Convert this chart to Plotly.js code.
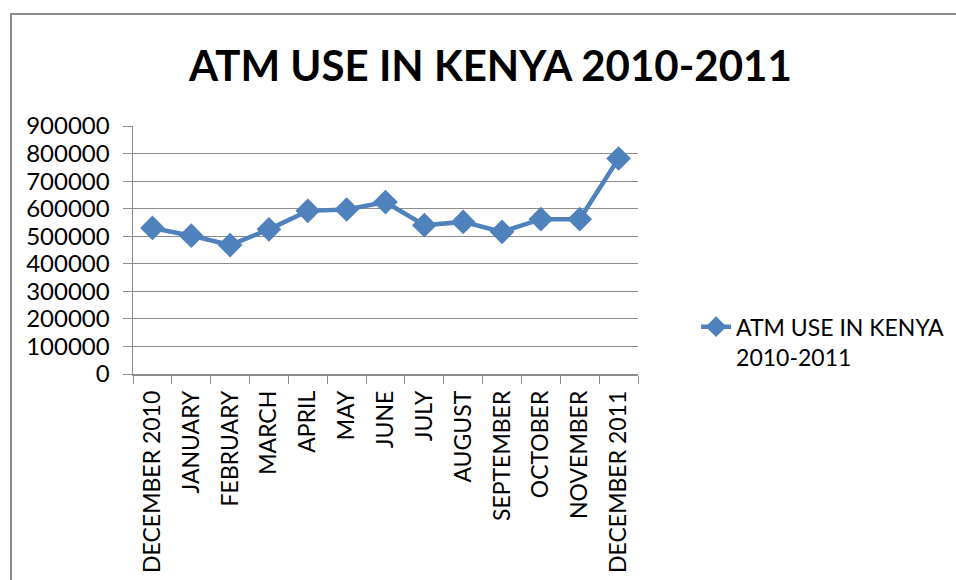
<!DOCTYPE html>
<html>
<head>
<meta charset="utf-8">
<script src="https://cdn.plot.ly/plotly-3.0.1.min.js"></script>
<style>
html,body{margin:0;padding:0;background:#fff;}
#wrap{position:relative;width:956px;height:580px;overflow:hidden;}
#frame{position:absolute;left:10px;top:13px;width:1000px;height:700px;border:2px solid #8c8c8c;box-sizing:border-box;}
#chart{position:absolute;left:0;top:0;width:956px;height:580px;}
</style>
</head>
<body>
<div id="wrap"><div id="frame"></div><div id="chart"></div></div>
<script>
const months = ["DECEMBER 2010","JANUARY","FEBRUARY","MARCH","APRIL","MAY","JUNE","JULY","AUGUST","SEPTEMBER","OCTOBER","NOVEMBER","DECEMBER 2011"];
const atmUse = [530000, 502000, 468000, 525000, 592000, 597000, 624000, 540000, 552000, 516000, 562000, 562000, 782000];
const seriesName = "ATM USE IN KENYA<br>2010-2011";
const chartTitle = "ATM USE IN KENYA 2010-2011";

const trace = {
  x: months, y: atmUse, type: 'scatter', mode: 'lines+markers',
  name: seriesName,
  line: {color: '#4F81BD', width: 4.5},
  marker: {symbol: 'diamond', size: 19, color: '#4F81BD'}
};
const layout = {
  width: 956, height: 580,
  paper_bgcolor: 'rgba(0,0,0,0)', plot_bgcolor: 'rgba(0,0,0,0)',
  margin: {l: 133, r: 318, t: 126, b: 206, autoexpand: false},
  font: {family: 'Lato, "Open Sans", sans-serif', color: '#000'},
  title: {text: '<b>' + chartTitle + '</b>', font: {size: 42, family: 'Lato, sans-serif', color: '#000'}, x: 0.513, xanchor: 'center', y: 0.885, yanchor: 'middle'},
  xaxis: {
    type: 'category', range: [-0.5, 12.5], tickangle: -90,
    ticks: 'outside', tickson: 'boundaries', ticklen: 8, tickcolor: '#8c8c8c',
    showline: true, linecolor: '#8c8c8c', linewidth: 1.5,
    showgrid: false, tickfont: {size: 23}, ticklabelstandoff: 6, fixedrange: true
  },
  yaxis: {
    range: [0, 900000], dtick: 100000, tickformat: 'd',
    ticks: 'outside', ticklen: 9, tickcolor: '#8c8c8c',
    showline: true, linecolor: '#8c8c8c', linewidth: 1.5,
    showgrid: true, gridcolor: '#8c8c8c', gridwidth: 1.2,
    zeroline: false, tickfont: {size: 24}, ticklabelstandoff: 8
  },
  showlegend: true,
  legend: {x: 1.115, xanchor: 'left', y: 0.13, yanchor: 'middle', valign: 'top', font: {size: 23}, bgcolor: 'rgba(0,0,0,0)'}
};
Plotly.newPlot('chart', [trace], layout, {displayModeBar: false, staticPlot: true});
</script>
</body>
</html>
